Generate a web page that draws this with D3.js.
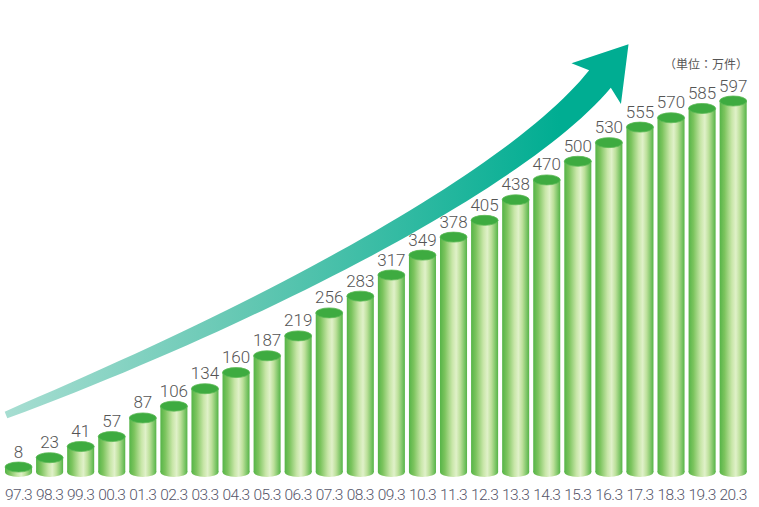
<!DOCTYPE html>
<html>
<head>
<meta charset="utf-8">
<script src="https://cdn.jsdelivr.net/npm/d3@7"></script>
<style>
  body { margin: 0; background: #fff; }
  svg { display: block; }
  .value { font-family: Roboto, "Liberation Sans", Arial, sans-serif; font-weight: 300; font-size: 17px; fill: #555; }
  .period { font-family: Roboto, "Liberation Sans", Arial, sans-serif; font-weight: 300; font-size: 15.5px; fill: #56566a; letter-spacing: -0.6px; }
  .unit { font-family: "Noto Sans CJK JP", sans-serif; font-size: 12px; fill: #555; }
</style>
</head>
<body>
<svg width="759" height="507"></svg>
<script>
// Data: number of contracts at end of March each year
const periods = ['97.3','98.3','99.3','00.3','01.3','02.3','03.3','04.3','05.3','06.3','07.3','08.3',
  '09.3','10.3','11.3','12.3','13.3','14.3','15.3','16.3','17.3','18.3','19.3','20.3']
const counts = [8,23,41,57,87,106,134,160,187,219,256,283,317,349,378,405,438,470,500,530,555,570,585,597]
const unitLabel = '（単位：万件）'

const svg = d3.select('svg')
const ry = 5

// Scales
const x = d3.scaleBand()
  .domain(periods)
  .range([3, 748.7])
  .paddingInner(0.13)
  .paddingOuter(0.065)
const y = d3.scaleLinear()
  .domain([0, 597])
  .range([472, 101])

const defs = svg.append('defs')

// horizontal shading of the cylinders
const bodyGrad = defs.append('linearGradient')
  .attr('id', 'body').attr('x1', 0).attr('x2', 1).attr('y1', 0).attr('y2', 0)
bodyGrad.selectAll('stop')
  .data([[0, '#55b447'], [0.18, '#7cc45e'], [0.45, '#c8e6a8'], [0.6, '#e0f1c9'], [0.75, '#bce09a'], [1, '#55b447']])
  .join('stop')
  .attr('offset', d => d[0])
  .attr('stop-color', d => d[1])

const arrowGrad = defs.append('linearGradient')
  .attr('id', 'arrow').attr('gradientUnits', 'userSpaceOnUse')
  .attr('x1', 0).attr('x2', 560).attr('y1', 0).attr('y2', 0)
arrowGrad.selectAll('stop')
  .data([[0, '#a8ded2'], [0.45, '#62c7b2'], [1, '#00ad92']])
  .join('stop')
  .attr('offset', d => d[0])
  .attr('stop-color', d => d[1])

// Growth arrow (decoration) built from a bezier centreline with growing width
const p0 = [6, 415], p1 = [288, 302], p2 = [523, 173], p3 = [600, 79]
function bez(t) {
  const u = 1 - t
  return [0, 1].map(k => u*u*u*p0[k] + 3*u*u*t*p1[k] + 3*u*t*t*p2[k] + t*t*t*p3[k])
}
function bezD(t) {
  const u = 1 - t
  return [0, 1].map(k => 3*u*u*(p1[k]-p0[k]) + 6*u*t*(p2[k]-p1[k]) + 3*t*t*(p3[k]-p2[k]))
}
const left = [], right = []
d3.range(0, 1.0001, 0.02).forEach(t => {
  const p = bez(t), d = bezD(t)
  const len = Math.hypot(d[0], d[1])
  const nx = -d[1] / len, ny = d[0] / len
  const w = (7 + 21 * Math.pow(t, 0.7)) / 2
  left.push([p[0] + nx * w, p[1] + ny * w])
  right.push([p[0] - nx * w, p[1] - ny * w])
})
const end = bez(1), endD = bezD(1)
const el = Math.hypot(endD[0], endD[1])
const dx = endD[0] / el, dy = endD[1] / el
const nx = -dy, ny = dx
const head = [
  [end[0] - dx * 6 + nx * 32, end[1] - dy * 6 + ny * 32],
  [end[0] + dx * 45, end[1] + dy * 45],
  [end[0] - dx * 6 - nx * 32, end[1] - dy * 6 - ny * 32]
]
const outline = left.concat(head, right.reverse())
svg.append('path')
  .attr('d', d3.line()(outline) + 'Z')
  .attr('fill', 'url(#arrow)')

// Bars as cylinders
const bars = svg.append('g')
  .selectAll('g')
  .data(counts)
  .join('g')

bars.append('ellipse')
  .attr('cx', (d, i) => x(periods[i]) + x.bandwidth() / 2)
  .attr('cy', y(0))
  .attr('rx', x.bandwidth() / 2)
  .attr('ry', ry)
  .attr('fill', 'url(#body)')

bars.append('rect')
  .attr('x', (d, i) => x(periods[i]))
  .attr('y', d => y(d))
  .attr('width', x.bandwidth())
  .attr('height', d => y(0) - y(d))
  .attr('fill', 'url(#body)')

bars.append('ellipse')
  .attr('cx', (d, i) => x(periods[i]) + x.bandwidth() / 2)
  .attr('cy', d => y(d))
  .attr('rx', x.bandwidth() / 2)
  .attr('ry', ry)
  .attr('fill', '#3eab40')
  .attr('stroke', '#5cba55')
  .attr('stroke-width', 0.8)

bars.append('text')
  .attr('class', 'value')
  .attr('x', (d, i) => x(periods[i]) + x.bandwidth() / 2)
  .attr('y', d => y(d) - ry - 4.5)
  .attr('text-anchor', 'middle')
  .text(d => d)

// Period labels
svg.append('g')
  .selectAll('text')
  .data(periods)
  .join('text')
  .attr('class', 'period')
  .attr('x', d => x(d) + x.bandwidth() / 2)
  .attr('y', 500)
  .attr('text-anchor', 'middle')
  .text(d => d)

svg.append('text')
  .attr('class', 'unit')
  .attr('x', 748)
  .attr('y', 69)
  .attr('text-anchor', 'end')
  .text(unitLabel)
</script>
</body>
</html>
